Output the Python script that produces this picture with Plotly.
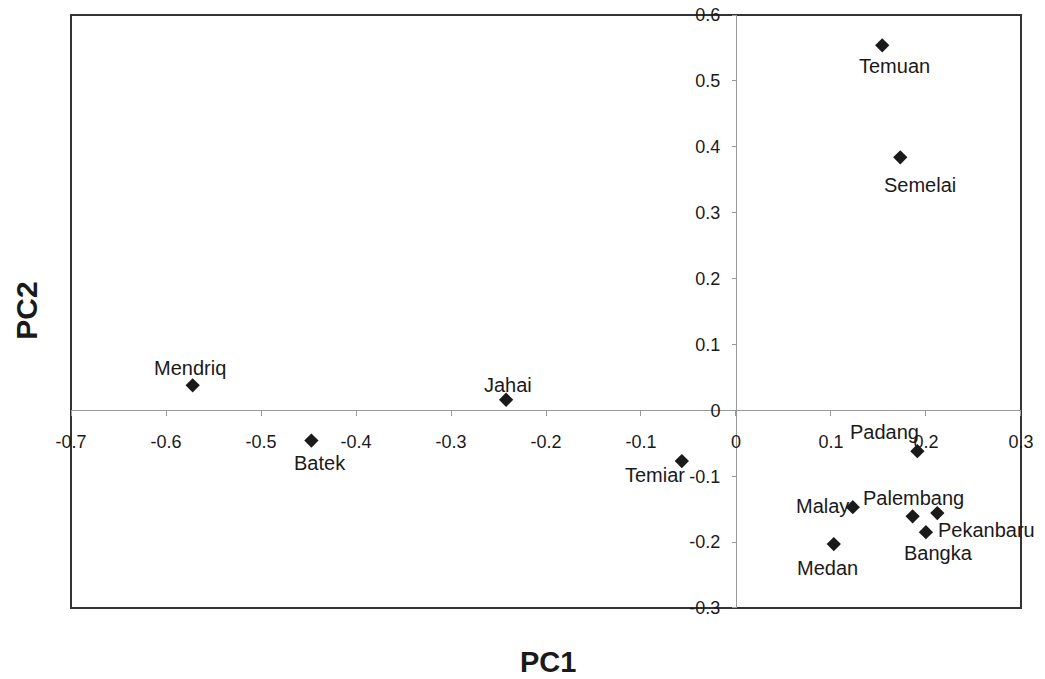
import plotly.graph_objects as go

names = ["Temuan", "Semelai", "Mendriq", "Batek", "Jahai", "Temiar", "Padang",
         "Malay", "Palembang", "Pekanbaru", "Bangka", "Medan"]
pc1 = [0.154, 0.173, -0.572, -0.447, -0.242, -0.057, 0.191, 0.123, 0.186, 0.212, 0.200, 0.103]
pc2 = [0.554, 0.384, 0.038, -0.046, 0.016, -0.077, -0.062, -0.147, -0.161, -0.156, -0.185, -0.203]

# label offsets from marker in pixels (right, up)
label_dx = [12, 20, -3, 9, 2, -27, -33, -30, 1, 49, 13, -6]
label_dy = [-21, -28, 17, -22, 15, -14, 19, 1, 18, -17, -21, -24]

x_ticks = [-0.7, -0.6, -0.5, -0.4, -0.3, -0.2, -0.1, 0, 0.1, 0.2, 0.3]
x_ticktext = ["-0.7", "-0.6", "-0.5", "-0.4", "-0.3", "-0.2", "-0.1", "0", "0.1", "0.2", "0.3"]
y_ticks = [-0.3, -0.2, -0.1, 0, 0.1, 0.2, 0.3, 0.4, 0.5, 0.6]
y_ticktext = ["-0.3", "-0.2", "-0.1", "0", "0.1", "0.2", "0.3", "0.4", "0.5", "0.6"]

x_range = [-0.7, 0.3]
y_range = [-0.3, 0.6]

font_family = "Liberation Sans, Arial, sans-serif"

fig = go.Figure()
fig.add_trace(go.Scatter(
    x=pc1, y=pc2, mode="markers",
    marker=dict(symbol="diamond", size=11, color="#1a1a1a"),
    cliponaxis=False, showlegend=False, hovertext=names,
))

annotations = []
for name, xv, yv, dx, dy in zip(names, pc1, pc2, label_dx, label_dy):
    annotations.append(dict(
        x=xv, y=yv, xref="x", yref="y", text=name, showarrow=False,
        xshift=dx, yshift=dy, xanchor="center", yanchor="middle",
        font=dict(family=font_family, size=20, color="#1a1a1a"),
    ))

annotations += [
    dict(text="<b>PC1</b>", xref="paper", yref="paper", x=0.502, y=-0.091,
         showarrow=False, font=dict(size=29, color="#1a1a1a"),
         xanchor="center", yanchor="middle"),
    dict(text="<b>PC2</b>", xref="paper", yref="paper", x=-0.047, y=0.502,
         showarrow=False, font=dict(size=30, color="#1a1a1a"), textangle=-90,
         xanchor="center", yanchor="middle"),
]

x_pos = (0 - y_range[0]) / (y_range[1] - y_range[0])
y_pos = (0 - x_range[0]) / (x_range[1] - x_range[0])

fig.update_layout(
    width=1037, height=671,
    margin=dict(l=63, r=24, t=7, b=71),
    paper_bgcolor="white", plot_bgcolor="white",
    font=dict(family=font_family, size=18, color="#1a1a1a"),
    xaxis=dict(range=[x_range[0] - 1e-4, x_range[1] + 1e-4],
               tickvals=x_ticks, ticktext=x_ticktext,
               anchor="free", position=x_pos, showgrid=False, zeroline=False,
               showline=True, linecolor="#999999", linewidth=1, automargin=False,
               ticks="outside", ticklen=5, tickcolor="#999999", ticklabelstandoff=10,
               ticklabeloverflow="allow",
               tickfont=dict(size=18, color="#1a1a1a")),
    yaxis=dict(range=[y_range[0] - 1e-4, y_range[1] + 1e-4],
               tickvals=y_ticks, ticktext=y_ticktext,
               anchor="free", position=y_pos, showgrid=False, zeroline=False,
               showline=True, linecolor="#999999", linewidth=1, automargin=False,
               ticks="outside", ticklen=4, tickcolor="#999999", ticklabelstandoff=8,
               ticklabeloverflow="allow",
               tickfont=dict(size=18, color="#1a1a1a")),
    shapes=[dict(type="rect", xref="paper", yref="paper", x0=0, y0=0, x1=1, y1=1,
                 line=dict(color="#333333", width=2), layer="below")],
    annotations=annotations,
)

fig.write_html("out.html")
